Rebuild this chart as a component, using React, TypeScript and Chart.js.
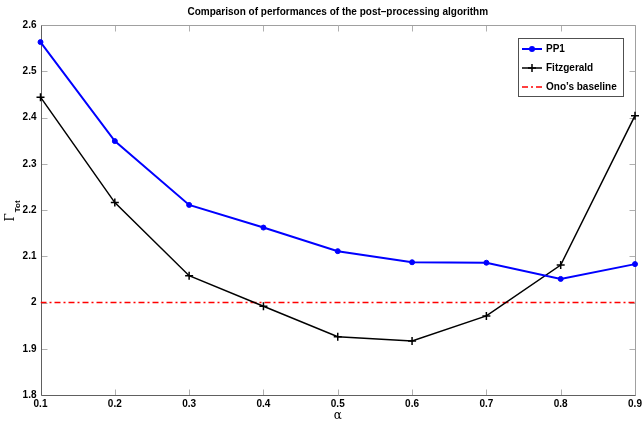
import { useEffect, useRef } from 'react';
import { Chart, registerables } from 'chart.js';
Chart.register(...registerables);

const alpha = [0.1, 0.2, 0.3, 0.4, 0.5, 0.6, 0.7, 0.8, 0.9];
const pp1 = [2.563, 2.349, 2.211, 2.162, 2.111, 2.087, 2.086, 2.051, 2.083];
const fitzgerald = [2.444, 2.216, 2.058, 1.992, 1.926, 1.917, 1.971, 2.081, 2.404];
const onoBaseline = [2, 2, 2, 2, 2, 2, 2, 2, 2];
const xTicks = [0.1, 0.2, 0.3, 0.4, 0.5, 0.6, 0.7, 0.8, 0.9];
const yTicks = [1.8, 1.9, 2.0, 2.1, 2.2, 2.3, 2.4, 2.5, 2.6];
const seriesNames = ['PP1', 'Fitzgerald', 'Ono\u2019s baseline'];
const chartTitle = 'Comparison of performances of the post\u2013processing algorithm';
const xTitle = '\u03b1';
const yTitleMain = '\u0393';
const yTitleSub = 'Tot';

const FONT = '"Liberation Sans", Arial, sans-serif';
const fmt = (v: number) => String(Number(v.toFixed(1)));

const framePlugin = {
  id: 'frame',
  beforeDatasetsDraw(chart: any) {
    const { ctx, chartArea: a, scales } = chart;
    const L = Math.round(a.left) + 0.5, R = Math.round(a.right) + 0.5;
    const T = Math.round(a.top) + 0.5, B = Math.round(a.bottom) + 0.5;
    ctx.save();
    ctx.lineWidth = 1;
    ctx.strokeStyle = '#b0b0b0';
    ctx.beginPath();
    for (const v of xTicks) {
      const x = Math.round(scales.x.getPixelForValue(v)) + 0.5;
      ctx.moveTo(x, B); ctx.lineTo(x, B - 6);
      ctx.moveTo(x, T); ctx.lineTo(x, T + 6);
    }
    for (const v of yTicks) {
      const y = Math.round(scales.y.getPixelForValue(v)) + 0.5;
      ctx.moveTo(L, y); ctx.lineTo(L + 6, y);
      ctx.moveTo(R, y); ctx.lineTo(R - 6, y);
    }
    ctx.stroke();
    ctx.strokeStyle = '#a0a0a0';
    ctx.beginPath();
    ctx.moveTo(L, T); ctx.lineTo(R, T); ctx.lineTo(R, B);
    ctx.stroke();
    ctx.strokeStyle = '#606060';
    ctx.beginPath();
    ctx.moveTo(L, T); ctx.lineTo(L, B); ctx.lineTo(R, B);
    ctx.stroke();
    ctx.restore();
  },
  afterDraw(chart: any) {
    const { ctx, chartArea: a } = chart;
    ctx.save();
    const cy = (a.top + a.bottom) / 2 + 1;
    ctx.translate(0, cy);
    ctx.rotate(-Math.PI / 2);
    ctx.fillStyle = '#000';
    ctx.textBaseline = 'alphabetic';
    ctx.textAlign = 'left';
    ctx.font = '12px "DejaVu Serif", serif';
    const gw = ctx.measureText(yTitleMain).width;
    ctx.font = 'bold 8px ' + FONT;
    const sw = ctx.measureText(yTitleSub).width;
    const start = -(gw + sw + 1) / 2;
    ctx.font = '12px "DejaVu Serif", serif';
    ctx.fillText(yTitleMain, start, 13.5);
    ctx.font = 'bold 8px ' + FONT;
    ctx.fillText(yTitleSub, start + gw + 1, 20);
    ctx.restore();

    ctx.save();
    const bx = 518.5, by = 38.5, bw = 105, bh = 58;
    ctx.fillStyle = '#fff';
    ctx.fillRect(bx, by, bw, bh);
    ctx.strokeStyle = '#505050';
    ctx.lineWidth = 1;
    ctx.strokeRect(bx, by, bw, bh);
    const rows = [49, 68, 87];
    const ds = chart.data.datasets;
    rows.forEach((y, i) => {
      const d = ds[i];
      ctx.save();
      ctx.strokeStyle = d.borderColor;
      ctx.lineWidth = d.borderWidth;
      ctx.setLineDash(d.borderDash || []);
      ctx.beginPath();
      ctx.moveTo(522, y); ctx.lineTo(542, y);
      ctx.stroke();
      ctx.setLineDash([]);
      if (i === 0) {
        ctx.fillStyle = d.borderColor;
        ctx.beginPath(); ctx.arc(532, y, 3, 0, Math.PI * 2); ctx.fill();
      } else if (i === 1) {
        ctx.beginPath();
        ctx.moveTo(528, y); ctx.lineTo(536, y);
        ctx.moveTo(532, y - 4); ctx.lineTo(532, y + 4);
        ctx.stroke();
      }
      ctx.restore();
      ctx.fillStyle = '#000';
      ctx.font = 'bold 10px ' + FONT;
      ctx.textBaseline = 'middle';
      ctx.textAlign = 'left';
      ctx.fillText(seriesNames[i], 546, y + 0.5);
    });
    ctx.restore();
  },
};

export default function App() {
  const ref = useRef<HTMLCanvasElement>(null);
  useEffect(() => {
    const toXY = (arr: number[]) => arr.map((y, i) => ({ x: alpha[i], y }));
    const tickFont = { family: FONT, size: 10, weight: 'bold' as const };
    const chart = new Chart(ref.current!, {
      type: 'line',
      data: {
        datasets: [
          {
            label: seriesNames[0], data: toXY(pp1), borderColor: '#0000ff', backgroundColor: '#0000ff',
            borderWidth: 2, pointRadius: 2.5, pointStyle: 'circle', pointBackgroundColor: '#0000ff',
            pointBorderColor: '#0000ff', pointBorderWidth: 1, tension: 0, clip: false as any,
          },
          {
            label: seriesNames[1], data: toXY(fitzgerald), borderColor: '#000000', backgroundColor: '#000000',
            borderWidth: 1.5, pointRadius: 4, pointStyle: 'cross', pointBorderWidth: 1.5,
            pointBorderColor: '#000000', tension: 0, clip: false as any,
          },
          {
            label: seriesNames[2], data: toXY(onoBaseline), borderColor: '#ff0000',
            borderWidth: 1.5, borderDash: [6, 3, 2, 3], pointRadius: 0, tension: 0,
          } as any,
        ],
      },
      options: {
        animation: false,
        responsive: false,
        maintainAspectRatio: false,
        layout: { padding: { left: 0, right: 7, top: 0, bottom: 0 } },
        plugins: {
          legend: { display: false },
          tooltip: { enabled: false },
          title: {
            display: true, text: chartTitle, fullSize: false, color: '#000',
            font: { family: FONT, size: 10, weight: 'bold' }, padding: { top: 6, bottom: 7 },
          },
        },
        scales: {
          x: {
            type: 'linear', min: 0.1, max: 0.9,
            afterBuildTicks: (s: any) => { s.ticks = xTicks.map((v) => ({ value: v })); },
            afterFit: (s: any) => { s.height = 28; s.paddingLeft = 0; s.paddingRight = 0; },
            grid: { display: false, drawTicks: false },
            border: { display: false },
            ticks: { padding: 3, color: '#000', font: tickFont, maxRotation: 0, autoSkip: false, callback: (v: any) => fmt(Number(v)) },
            title: { display: true, text: xTitle, color: '#000', font: { family: '"DejaVu Serif", serif', size: 12 }, padding: { top: 0, bottom: 0 } },
          },
          y: {
            type: 'linear', min: 1.8, max: 2.6,
            afterBuildTicks: (s: any) => { s.ticks = yTicks.map((v) => ({ value: v })); },
            afterFit: (s: any) => { s.width = 40.5; s.paddingTop = 0; s.paddingBottom = 0; },
            grid: { display: false, drawTicks: false },
            border: { display: false },
            ticks: { padding: 4, color: '#000', font: tickFont, autoSkip: false, callback: (v: any) => fmt(Number(v)) },
          },
        },
      },
      plugins: [framePlugin],
    });
    return () => chart.destroy();
  }, []);
  return (
    <div style={{ position: 'absolute', left: 0, top: 0, width: 642, height: 423, background: '#fff' }}>
      <canvas ref={ref} width={642} height={423} style={{ width: 642, height: 423 }} />
    </div>
  );
}
